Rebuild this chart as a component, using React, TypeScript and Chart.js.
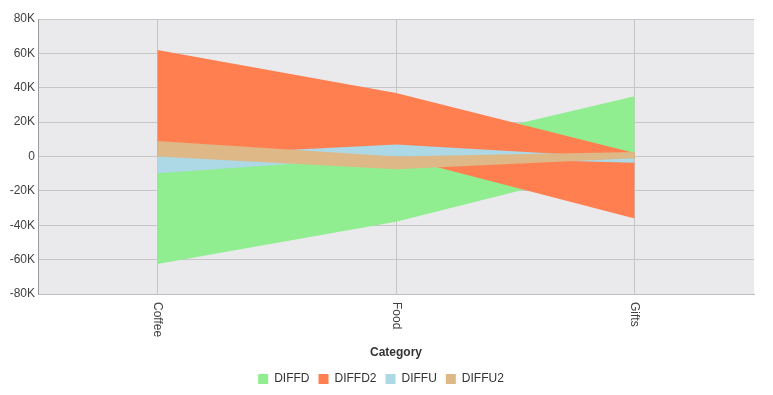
import React, { useEffect, useRef } from 'react';
import { Chart, registerables } from 'chart.js';

Chart.register(...registerables);

// ---- data ----
const categories = ['Coffee', 'Food', 'Gifts'];

const seriesNames = ['DIFFD', 'DIFFD2', 'DIFFU', 'DIFFU2'];
const seriesColors = ['#90EE90', '#FF7F50', '#ADD8E6', '#DEB887'];

// each series is drawn as a band between a low and a high line
const diffdLow = [-62500, -38000, -3000];
const diffdHigh = [0, 2500, 35000];
const diffd2Low = [0, 0, -36000];
const diffd2High = [62000, 37000, 2000];
const diffuLow = [-9800, 0, -3600];
const diffuHigh = [0, 7000, -1000];
const diffu2Low = [0, -7400, -1000];
const diffu2High = [9000, 0, 2600];

const yTickValues = [-80000, -60000, -40000, -20000, 0, 20000, 40000, 60000, 80000];
const yTickLabels = ['-80K', '-60K', '-40K', '-20K', '0', '20K', '40K', '60K', '80K'];

const xAxisTitle = 'Category';

const FONT = 'Arial, "Liberation Sans", sans-serif';

export default function App() {
  const ref = useRef<HTMLCanvasElement>(null);

  useEffect(() => {
    document.documentElement.style.overflow = 'hidden';
    document.body.style.overflow = 'hidden';
    if (!ref.current) return;

    const bands = [
      [diffdLow, diffdHigh],
      [diffd2Low, diffd2High],
      [diffuLow, diffuHigh],
      [diffu2Low, diffu2High],
    ];

    const datasets: any[] = [];
    bands.forEach(([lo, hi], i) => {
      const order = 4 - i;
      datasets.push({
        label: seriesNames[i] + '__base',
        data: lo,
        borderWidth: 0,
        borderColor: 'rgba(0,0,0,0)',
        backgroundColor: 'rgba(0,0,0,0)',
        pointRadius: 0,
        pointHoverRadius: 0,
        fill: false,
        tension: 0,
        order,
      });
      datasets.push({
        label: seriesNames[i],
        data: hi,
        borderWidth: 0,
        borderColor: 'rgba(0,0,0,0)',
        backgroundColor: seriesColors[i],
        pointRadius: 0,
        pointHoverRadius: 0,
        fill: '-1',
        tension: 0,
        order,
      });
    });

    const decor = {
      id: 'decor',
      beforeDraw(chart: any) {
        const { ctx, chartArea } = chart;
        const { left, top, right, bottom } = chartArea;
        ctx.save();
        ctx.fillStyle = '#eaeaed';
        ctx.fillRect(left, top, right - left, bottom - top);
        ctx.restore();
      },
      afterDraw(chart: any) {
        const { ctx, chartArea } = chart;
        const xs = chart.scales.x;
        ctx.save();
        ctx.fillStyle = '#404040';
        ctx.font = '12px ' + FONT;
        ctx.textAlign = 'left';
        ctx.textBaseline = 'middle';
        categories.forEach((c, i) => {
          const x = xs.getPixelForTick(i);
          ctx.save();
          ctx.translate(x, chartArea.bottom + 8);
          ctx.rotate(Math.PI / 2);
          ctx.fillText(c, 0, 0);
          ctx.restore();
        });
        ctx.fillStyle = '#333333';
        ctx.font = 'bold 12px ' + FONT;
        ctx.textAlign = 'center';
        ctx.fillText(xAxisTitle, (chartArea.left + chartArea.right) / 2, chartArea.bottom + 59);
        ctx.restore();
      },
    };

    const chart = new Chart(ref.current, {
      type: 'line',
      data: { labels: categories, datasets },
      plugins: [decor],
      options: {
        animation: false,
        responsive: true,
        maintainAspectRatio: false,
        events: [],
        layout: { padding: { top: 11, right: 11, left: 0, bottom: 0 } },
        scales: {
          x: {
            type: 'category',
            offset: true,
            grid: { display: true, offset: false, color: '#c6c6c8', drawTicks: false },
            border: { display: true, color: '#bdbdbf', width: 1 },
            ticks: { display: false },
            afterFit: (s: any) => {
              s.height = 70;
            },
          },
          y: {
            type: 'linear',
            min: -80000,
            max: 80000,
            afterBuildTicks: (s: any) => {
              s.ticks = yTickValues.map((v) => ({ value: v }));
            },
            grid: { color: '#c6c6c8', drawTicks: false },
            border: { display: true, color: '#9a9a9a', width: 1 },
            ticks: {
              padding: 3,
              color: '#404040',
              font: { size: 12, family: FONT },
              callback: (v: any) => {
                const idx = yTickValues.indexOf(Number(v));
                return idx >= 0 ? yTickLabels[idx] : '';
              },
            },
            afterFit: (s: any) => {
              s.width = 30;
            },
          },
        },
        plugins: {
          tooltip: { enabled: false },
          title: { display: false },
          legend: {
            display: true,
            position: 'bottom',
            labels: {
              boxWidth: 10,
              boxHeight: 10,
              padding: 9,
              color: '#333333',
              font: { size: 12, family: FONT },
              filter: (item: any) => !String(item.text).endsWith('__base'),
              sort: (a: any, b: any) => a.datasetIndex - b.datasetIndex,
            },
          },
        },
      },
    });

    return () => {
      chart.destroy();
    };
  }, []);

  return (
    <div style={{ position: 'relative', width: '757px', height: '387px' }}>
      <canvas ref={ref} />
    </div>
  );
}
